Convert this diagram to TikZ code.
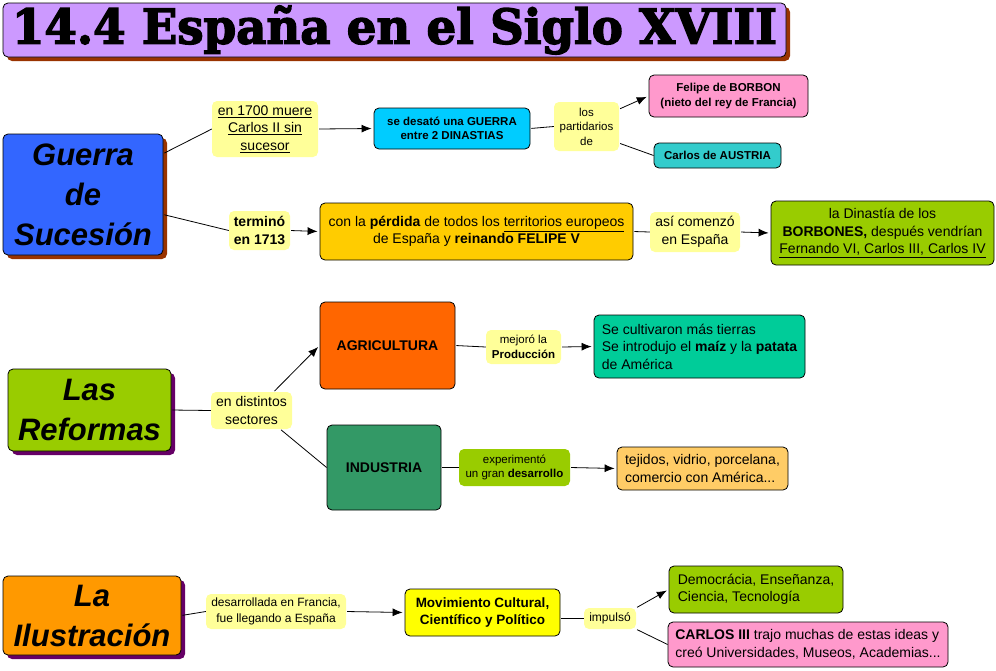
\documentclass[tikz,border=0pt]{standalone}
\usepackage{fontspec}
\usepackage{graphicx}
\setmainfont{Liberation Sans}
\newfontfamily\titulofont[UprightFont={* Bold}, FakeBold=3]{DejaVu Serif}
\usetikzlibrary{shadows,arrows.meta}

\definecolor{lavanda}{HTML}{CC99FF}
\definecolor{marron}{HTML}{993300}
\definecolor{morado}{HTML}{660066}
\definecolor{azul}{HTML}{3366FF}
\definecolor{amarillo}{HTML}{FFFF99}
\definecolor{celeste}{HTML}{00CCFF}
\definecolor{rosa}{HTML}{FF99CC}
\definecolor{turquesa}{HTML}{33CCCC}
\definecolor{oro}{HTML}{FFCC00}
\definecolor{lima}{HTML}{99CC00}
\definecolor{naranja}{HTML}{FF6600}
\definecolor{verdeosc}{HTML}{339966}
\definecolor{verdemar}{HTML}{00CC99}
\definecolor{melocoton}{HTML}{FFCC66}
\definecolor{anaranjado}{HTML}{FF9900}
\definecolor{limon}{HTML}{FFFF00}

\tikzset{
  caja/.style={draw, rounded corners=5pt, line width=0.8pt, align=center, inner sep=2pt},
  tema/.style={caja, font=\fontsize{31}{40}\selectfont\bfseries\itshape},
  etiqueta/.style={fill=amarillo, rounded corners=5pt, align=center, inner sep=2pt},
  texto/.style={font=\fontsize{14}{17.5}\selectfont},
  textob/.style={font=\fontsize{14}{17.5}\selectfont\bfseries},
  chico/.style={font=\fontsize{11.5}{14.5}\selectfont},
  chicob/.style={font=\fontsize{11.5}{14.5}\selectfont\bfseries},
  sombramarron/.style={drop shadow={shadow xshift=4pt, shadow yshift=-4pt, fill=marron, opacity=1}},
  sombramorada/.style={drop shadow={shadow xshift=4pt, shadow yshift=-4pt, fill=morado, opacity=1}},
  linea/.style={line width=0.8pt, shorten <=1pt},
  flecha/.style={linea, -{Latex[length=10pt,width=8pt]}, shorten >=2pt},
}

\begin{document}
\begin{tikzpicture}[x=1pt, y=-1pt]
  \useasboundingbox (0,0) rectangle (996,670);

  % Title
  \node[caja, fill=lavanda, sombramarron, minimum width=783pt, minimum height=54pt] (titulo) at (394.5,30)
    {\resizebox{765pt}{38pt}{\titulofont 14.4 España en el Siglo XVIII}};

  % Guerra de Sucesion
  \node[tema, fill=azul, sombramarron, minimum width=160pt, minimum height=121pt] (guerra) at (83,194.5)
    {Guerra\\de\\Sucesión};
  \node[etiqueta, texto, minimum width=106pt, minimum height=56pt] (muere) at (265,129)
    {\underline{en 1700 muere}\\\underline{Carlos II sin}\\\underline{sucesor}};
  \node[caja, fill=celeste, chicob, minimum width=156pt, minimum height=41pt] (desato) at (452,128.5)
    {se desató una GUERRA\\entre 2 DINASTIAS};
  \node[etiqueta, chico, minimum width=65pt, minimum height=49pt] (parti) at (586.5,126.5)
    {los\\partidarios\\de};
  \node[caja, fill=rosa, chicob, minimum width=159pt, minimum height=42pt] (felipe) at (728.5,96)
    {Felipe de BORBON\\(nieto del rey de Francia)};
  \node[caja, fill=turquesa, chicob, minimum width=127pt, minimum height=25pt] (austria) at (717.5,155.5)
    {Carlos de AUSTRIA};
  \node[etiqueta, textob, minimum width=61pt, minimum height=39pt] (termino) at (259.5,230.5)
    {terminó\\en 1713};
  \node[caja, fill=oro, texto, minimum width=313pt, minimum height=57pt] (perdida) at (476.5,231.5)
    {con la \textbf{pérdida} de todos los \underline{territorios europeos}\\de España y \textbf{reinando FELIPE V}};
  \node[etiqueta, texto, minimum width=90pt, minimum height=40pt] (comenzo) at (695,232)
    {así comenzó\\en España};
  \node[caja, fill=lima, texto, minimum width=223pt, minimum height=64pt] (dinastia) at (882.5,233)
    {la Dinastía de los\\\textbf{BORBONES,} después vendrían\\\underline{Fernando VI, Carlos III, Carlos IV}};

  \draw[linea] (guerra.27) -- (muere.west);
  \draw[flecha] (muere.east) -- (desato.west);
  \draw[linea] (desato.east) -- (parti.west);
  \draw[flecha] (parti.28) -- (felipe.west);
  \draw[linea] (parti.-27) -- (austria.west);
  \draw[linea] (guerra.-14) -- (termino.west);
  \draw[flecha] (termino.east) -- (perdida.west);
  \draw[linea] (perdida.east) -- (comenzo.west);
  \draw[flecha] (comenzo.east) -- (dinastia.west);

  % Las Reformas
  \node[tema, fill=lima, sombramorada, minimum width=163pt, minimum height=82pt] (reformas) at (89.5,410)
    {Las\\Reformas};
  \node[etiqueta, texto, minimum width=81pt, minimum height=37pt] (sectores) at (251.5,410.5)
    {en distintos\\sectores};
  \node[caja, fill=naranja, textob, minimum width=135pt, minimum height=87pt] (agri) at (387.5,345.5)
    {AGRICULTURA};
  \node[caja, fill=verdeosc, textob, minimum width=114pt, minimum height=85pt] (industria) at (384,467.5)
    {INDUSTRIA};
  \node[etiqueta, chico, minimum width=75pt, minimum height=34pt] (mejoro) at (523.5,347)
    {mejoró la\\\textbf{Producción}};
  \node[caja, fill=verdemar, texto, align=left, minimum width=211pt, minimum height=63pt] (cultivos) at (699.5,346.5)
    {Se cultivaron más tierras\\Se introdujo el \textbf{maíz} y la \textbf{patata}\\de América};
  \node[etiqueta, fill=lima, chico, minimum width=111pt, minimum height=37pt] (experimento) at (514.5,467.5)
    {experimentó\\un gran \textbf{desarrollo}};
  \node[caja, fill=melocoton, texto, align=left, minimum width=171pt, minimum height=43pt] (tejidos) at (702.5,468.5)
    {tejidos, vidrio, porcelana,\\comercio con América...};

  \draw[linea] (reformas.east) -- (sectores.west);
  \draw[flecha] (sectores.40) -- (agri.west);
  \draw[linea] (sectores.-33) -- (industria.west);
  \draw[linea] (agri.east) -- (mejoro.west);
  \draw[flecha] (mejoro.east) -- (cultivos.west);
  \draw[linea] (industria.east) -- (experimento.west);
  \draw[flecha] (experimento.east) -- (tejidos.west);

  % La Ilustracion
  \node[tema, fill=anaranjado, sombramorada, minimum width=178pt, minimum height=79pt] (ilustracion) at (92,615.5)
    {La\\Ilustración};
  \node[etiqueta, font=\fontsize{12}{15.5}\selectfont, minimum width=140pt, minimum height=35pt] (francia) at (276,611.5)
    {desarrollada en Francia,\\fue llegando a España};
  \node[caja, fill=limon, font=\fontsize{13.5}{17}\selectfont\bfseries, minimum width=155pt, minimum height=47pt] (movimiento) at (482.5,612.5)
    {Movimiento Cultural,\\Científico y Político};
  \node[etiqueta, font=\fontsize{12}{15}\selectfont, minimum width=52pt, minimum height=21pt] (impulso) at (610,618.5)
    {impulsó};
  \node[caja, fill=lima, texto, align=left, minimum width=174pt, minimum height=47pt] (democracia) at (756,589.5)
    {Democrácia, Enseñanza,\\Ciencia, Tecnología};
  \node[caja, fill=rosa, texto, align=left, minimum width=280pt, minimum height=45pt] (carlos) at (808,644.5)
    {\textbf{CARLOS III} trajo muchas de estas ideas y\\creó Universidades, Museos, Academias...};

  \draw[linea] (ilustracion.east) -- (francia.west);
  \draw[flecha] (francia.east) -- (movimiento.west);
  \draw[linea] (impulso.west -| movimiento.east) -- (impulso.west);
  \draw[flecha] (impulso.north east) -- (democracia.west);
  \draw[linea] (impulso.south east) -- (carlos.west);
\end{tikzpicture}
\end{document}
